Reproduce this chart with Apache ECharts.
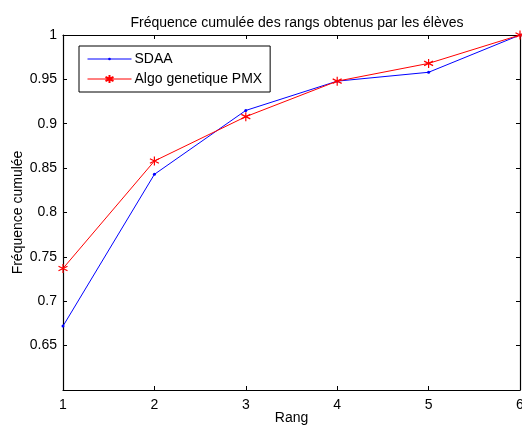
<!DOCTYPE html>
<html>
<head>
<meta charset="utf-8">
<script src="https://cdn.jsdelivr.net/npm/echarts@6/dist/echarts.min.js"></script>
<style>
html,body{margin:0;padding:0;background:#fff;}
#chart{width:522px;height:428px;}
</style>
</head>
<body>
<div id="chart"></div>
<script>
// Rangs et fréquences cumulées
const rangs = [1, 2, 3, 4, 5, 6];
const sdaa = [0.672, 0.843, 0.915, 0.948, 0.958, 1.0];
const pmx = [0.737, 0.858, 0.908, 0.948, 0.968, 1.0];

const FONT = 'Liberation Sans';
const FS = 14;
const asterisk = 'path://M0,-1L0,1M-0.87,-0.5L0.87,0.5M-0.87,0.5L0.87,-0.5';
// small point inside a wider empty box, so the dot stays small wherever it is drawn
const point = 'path://M-3,-3M3,3M1,0A1,1,0,1,1,-1,0A1,1,0,1,1,1,0Z';

const chart = echarts.init(document.getElementById('chart'));
const tickStyle = { show: true, inside: true, length: 4, lineStyle: { color: '#000', width: 1 } };
const lineStyleAxis = { show: true, onZero: false, lineStyle: { color: '#000', width: 1.2 } };

chart.setOption({
  animation: false,
  backgroundColor: '#fff',
  title: {
    text: 'Fréquence cumulée des rangs obtenus par les élèves',
    left: 292, top: 11, textAlign: 'center',
    textStyle: { fontFamily: FONT, fontSize: FS, fontWeight: 'normal', color: '#000' }
  },
  legend: {
    left: 79, top: 46, orient: 'vertical',
    padding: [5, 8, 5, 8],
    itemGap: 4, itemWidth: 44, itemHeight: 10,
    borderColor: '#000', borderWidth: 1, backgroundColor: '#fff',
    lineStyle: { width: 1 },
    textStyle: { fontFamily: FONT, fontSize: FS, color: '#000', padding: [0, 0, 0, -2], lineHeight: 16 },
    data: ['SDAA', 'Algo genetique PMX']
  },
  grid: { left: 63, right: 2, top: 35, bottom: 38, outerBoundsMode: 'none', containLabel: false },
  xAxis: [{
    type: 'value', min: 1, max: 6, interval: 1, position: 'bottom',
    name: 'Rang', nameLocation: 'middle', nameGap: 21, nameMoveOverlap: false,
    nameTextStyle: { fontFamily: FONT, fontSize: FS, color: '#000' },
    axisLine: lineStyleAxis, axisTick: tickStyle, splitLine: { show: false },
    axisLabel: { fontFamily: FONT, fontSize: FS, color: '#000', margin: 8 }
  }, {
    type: 'value', min: 1, max: 6, interval: 1, position: 'top',
    axisLine: lineStyleAxis, axisTick: tickStyle, splitLine: { show: false },
    axisLabel: { show: false }
  }],
  yAxis: [{
    type: 'value', min: 0.6, max: 1, interval: 0.05, position: 'left',
    name: 'Fréquence cumulée', nameLocation: 'middle', nameGap: 38, nameMoveOverlap: false,
    nameTextStyle: { fontFamily: FONT, fontSize: FS, color: '#000' },
    axisLine: lineStyleAxis, axisTick: tickStyle, splitLine: { show: false },
    axisLabel: {
      fontFamily: FONT, fontSize: FS, color: '#000', margin: 6, showMinLabel: false,
      formatter: v => String(+v.toFixed(2))
    }
  }, {
    type: 'value', min: 0.6, max: 1, interval: 0.05, position: 'right',
    axisLine: lineStyleAxis, axisTick: tickStyle, splitLine: { show: false },
    axisLabel: { show: false }
  }],
  series: [{
    name: 'SDAA', type: 'line',
    data: rangs.map((r, i) => [r, sdaa[i]]),
    symbol: point, symbolSize: 9, showSymbol: true,
    lineStyle: { color: '#0000ff', width: 1 },
    itemStyle: { color: '#0000ff' }
  }, {
    name: 'Algo genetique PMX', type: 'line',
    data: rangs.map((r, i) => [r, pmx[i]]),
    symbol: asterisk, symbolSize: 9, showSymbol: true,
    lineStyle: { color: '#ff0000', width: 1 },
    itemStyle: { color: '#ff0000', borderColor: '#ff0000', borderWidth: 1.2 }
  }]
});
</script>
</body>
</html>
